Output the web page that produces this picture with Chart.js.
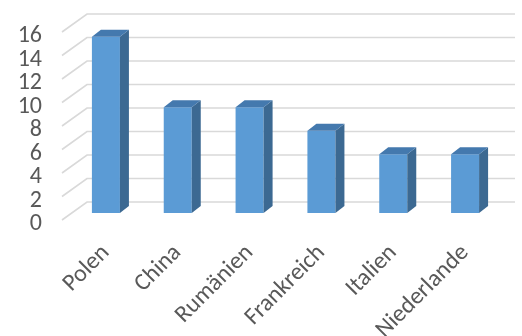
<!DOCTYPE html>
<html><head><meta charset="utf-8">
<script src="https://cdn.jsdelivr.net/npm/chart.js@4/dist/chart.umd.min.js"></script>
<style>html,body{margin:0;padding:0;background:#fff}#wrap{width:522px;height:336px}</style>
</head><body><div id="wrap"><canvas id="c" width="522" height="336"></canvas></div>
<script>
const categories = ["Polen", "China", "Rumänien", "Frankreich", "Italien", "Niederlande"];
const values = [15, 9, 9, 7, 5, 5];
const yMin = 0, yMax = 16, yStep = 2;

const DX = 9, DY = 7;
const threeD = {
  id: 'threeD',
  beforeDatasetsDraw(chart) {
    const ctx = chart.ctx, ys = chart.scales.y, ca = chart.chartArea;
    ctx.save();
    ctx.strokeStyle = '#D9D9D9';
    ctx.lineWidth = 1.6;
    ys.ticks.forEach(t => {
      const y = ys.getPixelForValue(t.value);
      ctx.beginPath();
      ctx.moveTo(ca.left - 8, y + 7);
      ctx.lineTo(ca.left + 17, y - 11);
      ctx.lineTo(515, y - 11);
      ctx.stroke();
    });
    ctx.restore();
  },
  afterDatasetsDraw(chart) {
    const ctx = chart.ctx;
    const meta = chart.getDatasetMeta(0);
    ctx.save();
    meta.data.forEach(bar => {
      const p = bar.getProps(['x', 'y', 'base', 'width'], true);
      const l = p.x - p.width / 2, r = p.x + p.width / 2;
      ctx.fillStyle = '#3C6992';
      ctx.beginPath();
      ctx.moveTo(r, p.y); ctx.lineTo(r + DX, p.y - DY);
      ctx.lineTo(r + DX, p.base - DY); ctx.lineTo(r, p.base);
      ctx.closePath(); ctx.fill();
      ctx.fillStyle = '#4479AE';
      ctx.beginPath();
      ctx.moveTo(l, p.y); ctx.lineTo(r, p.y);
      ctx.lineTo(r + DX, p.y - DY); ctx.lineTo(l + DX, p.y - DY);
      ctx.closePath(); ctx.fill();
    });
    ctx.restore();
  }
};

const chart = new Chart(document.getElementById('c'), {
  type: 'bar',
  data: {
    labels: categories,
    datasets: [{ data: values, backgroundColor: '#5B9BD5', barPercentage: 1, categoryPercentage: 0.39 }]
  },
  plugins: [threeD],
  options: {
    responsive: false,
    animation: false,
    layout: { padding: { left: 0, right: 21, top: 25, bottom: 0 } },
    plugins: { legend: { display: false }, tooltip: { enabled: false } },
    scales: {
      y: {
        min: yMin, max: yMax,
        ticks: { stepSize: yStep, autoSkip: false, padding: 28, labelOffset: 11, color: '#595959',
                 font: { family: "Carlito, 'Liberation Sans', sans-serif", size: 24 } },
        grid: { display: false, drawTicks: false },
        border: { display: false },
        afterFit(s) { s.width = 70; s.paddingTop = 0; s.paddingBottom = 0; }
      },
      x: {
        ticks: { minRotation: 45, maxRotation: 45, autoSkip: false, padding: 26, color: '#595959',
                 font: { family: "Carlito, 'Liberation Sans', sans-serif", size: 24 } },
        grid: { display: false, drawTicks: false },
        border: { display: false },
        afterFit(s) { s.height = 123; }
      }
    }
  }
});
</script></body></html>
